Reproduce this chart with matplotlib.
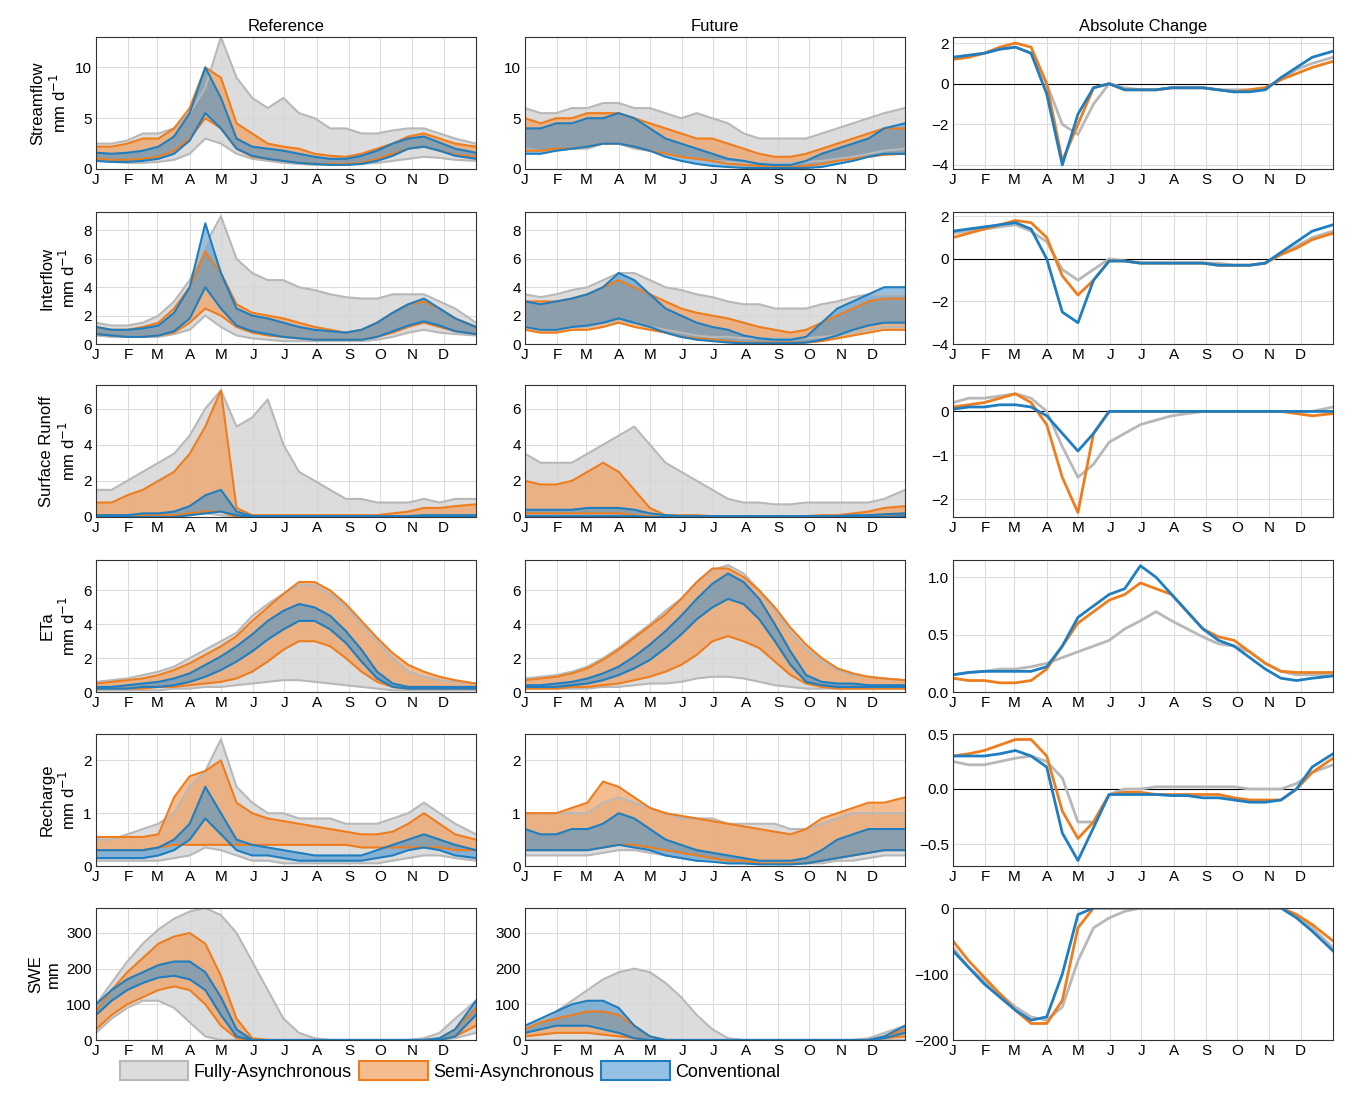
import numpy as np
import matplotlib
matplotlib.use("Agg")
import matplotlib.pyplot as plt
from matplotlib.patches import Patch

plt.rcParams['font.family'] = ['Liberation Sans', 'DejaVu Sans']

# sample days (day of year) for every series below
DAYS = [0, 15, 30, 45, 60, 75, 90, 105, 120, 135, 150, 165, 180, 195, 210,
        225, 240, 255, 270, 285, 300, 315, 330, 345, 365]
MONTH_START = [0, 31, 59, 90, 120, 151, 181, 212, 243, 273, 304, 334]
MONTH_LABELS = ['J', 'F', 'M', 'A', 'M', 'J', 'J', 'A', 'S', 'O', 'N', 'D']
COLUMNS = ['Reference', 'Future', 'Absolute Change']
ROW_LABELS = ['Streamflow\nmm d$^{-1}$', 'Interflow\nmm d$^{-1}$', 'Surface Runoff\nmm d$^{-1}$',
              'ETa\nmm d$^{-1}$', 'Recharge\nmm d$^{-1}$', 'SWE\nmm']
MODELS = ['Fully-Asynchronous', 'Semi-Asynchronous', 'Conventional']

Z = [0] * 25

# ---- Streamflow
sf_ref_grey_hi = [2.5, 2.5, 2.8, 3.5, 3.5, 4, 5.5, 8, 13, 9, 7, 6, 7, 5.5, 5, 4, 4, 3.5, 3.5, 3.8, 4, 4, 3.5, 3, 2.5]
sf_ref_grey_lo = [0.8, 0.7, 0.6, 0.6, 0.7, 0.9, 1.5, 3, 2.5, 1.5, 1, 0.8, 0.6, 0.5, 0.4, 0.4, 0.4, 0.5, 0.6, 0.8, 1, 1.2, 1.1, 0.9, 0.8]
sf_ref_or_hi = [2.2, 2.2, 2.5, 3, 3, 4, 6, 10, 9, 4.5, 3.5, 2.5, 2.2, 2, 1.5, 1.3, 1.2, 1.5, 2, 2.5, 3.2, 3.5, 3, 2.5, 2.2]
sf_ref_or_lo = [1, 0.9, 0.9, 1, 1.2, 1.8, 3, 5, 4, 2, 1.2, 1, 0.8, 0.6, 0.5, 0.5, 0.5, 0.6, 1, 1.5, 2, 2.2, 1.8, 1.4, 1.2]
sf_ref_bl_hi = [1.6, 1.5, 1.6, 1.8, 2.2, 3.2, 5.5, 10, 7, 3, 2.2, 2, 1.8, 1.5, 1.2, 1, 1, 1.3, 1.8, 2.5, 3, 3.2, 2.6, 2, 1.6]
sf_ref_bl_lo = [0.8, 0.7, 0.7, 0.8, 1, 1.5, 2.8, 5.5, 4, 2, 1.3, 1, 0.8, 0.6, 0.5, 0.4, 0.4, 0.5, 0.8, 1.3, 2, 2.2, 1.8, 1.3, 1]
sf_fut_grey_hi = [6, 5.5, 5.5, 6, 6, 6.5, 6.5, 6, 6, 5.5, 5, 5.5, 5, 4.5, 3.5, 3, 3, 3, 3, 3.5, 4, 4.5, 5, 5.5, 6]
sf_fut_grey_lo = [2, 1.8, 1.8, 2, 2, 2.5, 2.5, 2, 1.8, 1.5, 1.2, 1, 0.8, 0.7, 0.6, 0.6, 0.6, 0.6, 0.7, 0.8, 1, 1.2, 1.5, 1.8, 2]
sf_fut_or_hi = [5, 4.5, 5, 5, 5.5, 5.5, 5.5, 5, 4.5, 4, 3.5, 3, 3, 2.5, 2, 1.5, 1.2, 1.2, 1.5, 2, 2.5, 3, 3.5, 4, 4]
sf_fut_or_lo = [1.8, 1.8, 2, 2, 2.2, 2.5, 2.5, 2.2, 1.8, 1.5, 1.2, 1, 0.8, 0.5, 0.4, 0.3, 0.2, 0.2, 0.3, 0.5, 0.8, 1, 1.2, 1.4, 1.5]
sf_fut_bl_hi = [4, 4, 4.5, 4.5, 5, 5, 5.5, 5, 4, 3, 2.5, 2, 1.5, 1, 0.8, 0.5, 0.4, 0.4, 0.8, 1.5, 2, 2.5, 3, 4, 4.5]
sf_fut_bl_lo = [1.5, 1.5, 1.8, 2, 2.2, 2.5, 2.5, 2.2, 1.8, 1.2, 0.8, 0.5, 0.3, 0.2, 0.1, 0.1, 0.1, 0.1, 0.1, 0.2, 0.5, 0.8, 1.2, 1.5, 1.5]
sf_chg_grey = [1.3, 1.4, 1.5, 1.7, 1.8, 1.5, 0, -2, -2.5, -1, 0, -0.2, -0.3, -0.3, -0.2, -0.2, -0.2, -0.3, -0.3, -0.3, -0.2, 0.2, 0.7, 1, 1.3]
sf_chg_or = [1.2, 1.3, 1.5, 1.8, 2, 1.8, 0, -3.8, -2, -0.2, 0, -0.3, -0.3, -0.3, -0.2, -0.2, -0.2, -0.3, -0.4, -0.3, -0.2, 0.2, 0.5, 0.8, 1.1]
sf_chg_bl = [1.3, 1.4, 1.5, 1.7, 1.8, 1.5, -0.5, -4, -1.5, -0.2, 0, -0.3, -0.3, -0.3, -0.2, -0.2, -0.2, -0.3, -0.4, -0.4, -0.3, 0.3, 0.8, 1.3, 1.6]

# ---- Interflow
if_ref_grey_hi = [1.5, 1.3, 1.3, 1.5, 2, 3, 4.5, 7, 9, 6, 5, 4.5, 4.5, 4, 3.8, 3.5, 3.3, 3.2, 3.2, 3.5, 3.5, 3.5, 3, 2.5, 1.5]
if_ref_grey_lo = [0.6, 0.5, 0.5, 0.5, 0.5, 0.7, 1, 2, 1.2, 0.6, 0.4, 0.3, 0.2, 0.2, 0.2, 0.2, 0.2, 0.2, 0.3, 0.5, 0.8, 1, 0.8, 0.7, 0.6]
if_ref_or_hi = [1.2, 1, 1, 1.2, 1.5, 2.5, 4, 6.5, 5, 2.8, 2.2, 2, 1.8, 1.5, 1.2, 1, 0.8, 1, 1.5, 2.2, 2.8, 3, 2.5, 1.8, 1.2]
if_ref_or_lo = [0.7, 0.6, 0.5, 0.5, 0.6, 0.8, 1.5, 2.5, 2, 1.2, 0.8, 0.6, 0.5, 0.4, 0.3, 0.3, 0.3, 0.3, 0.5, 0.8, 1.2, 1.5, 1.2, 0.9, 0.7]
if_ref_bl_hi = [1.2, 1, 1, 1.1, 1.3, 2.2, 4, 8.5, 5, 2.5, 2, 1.8, 1.5, 1.2, 1, 0.9, 0.8, 1, 1.5, 2.2, 2.8, 3.2, 2.5, 1.8, 1.2]
if_ref_bl_lo = [0.7, 0.6, 0.5, 0.5, 0.6, 0.9, 1.8, 4, 2.5, 1.3, 0.9, 0.7, 0.5, 0.4, 0.3, 0.3, 0.3, 0.3, 0.5, 0.9, 1.3, 1.6, 1.3, 0.9, 0.7]
if_fut_grey_hi = [3.5, 3.3, 3.5, 3.8, 4, 4.5, 5, 5, 4.5, 4, 3.8, 3.5, 3.3, 3, 2.8, 2.8, 2.5, 2.5, 2.5, 2.8, 3, 3.3, 3.5, 3.5, 3.5]
if_fut_grey_lo = [1.2, 1, 1, 1.2, 1.2, 1.5, 1.5, 1.5, 1.2, 1, 0.8, 0.6, 0.5, 0.5, 0.4, 0.4, 0.4, 0.4, 0.4, 0.5, 0.6, 0.8, 1, 1.2, 1.2]
if_fut_or_hi = [3, 3, 3, 3.2, 3.5, 4, 4.5, 4, 3.5, 3, 2.5, 2.2, 2, 1.8, 1.5, 1.2, 1, 0.8, 1, 1.5, 2, 2.5, 3, 3.2, 3.2]
if_fut_or_lo = [1, 0.8, 0.8, 1, 1, 1.2, 1.5, 1.2, 1, 0.8, 0.5, 0.4, 0.3, 0.2, 0.1, 0.1, 0.1, 0.1, 0.1, 0.2, 0.4, 0.6, 0.8, 1, 1]
if_fut_bl_hi = [3, 2.8, 3, 3.2, 3.5, 4, 5, 4.5, 3.5, 2.5, 2, 1.5, 1.2, 1, 0.6, 0.4, 0.3, 0.3, 0.5, 1.5, 2.5, 3, 3.5, 4, 4]
if_fut_bl_lo = [1.2, 1, 1, 1.2, 1.3, 1.5, 1.8, 1.5, 1.2, 0.8, 0.5, 0.3, 0.2, 0.1, 0.05, 0.05, 0.05, 0.05, 0.1, 0.3, 0.6, 1, 1.3, 1.5, 1.5]
if_chg_grey = [1.2, 1.3, 1.4, 1.5, 1.6, 1.3, 0.8, -0.5, -1, -0.5, 0, -0.1, -0.2, -0.2, -0.2, -0.2, -0.2, -0.2, -0.3, -0.3, -0.2, 0.2, 0.6, 1, 1.3]
if_chg_or = [1, 1.2, 1.4, 1.6, 1.8, 1.7, 1, -0.8, -1.7, -1, -0.1, -0.1, -0.2, -0.2, -0.2, -0.2, -0.2, -0.3, -0.3, -0.3, -0.2, 0.2, 0.5, 0.9, 1.2]
if_chg_bl = [1.3, 1.4, 1.5, 1.6, 1.7, 1.4, 0, -2.5, -3, -1, -0.1, -0.1, -0.2, -0.2, -0.2, -0.2, -0.2, -0.3, -0.3, -0.3, -0.2, 0.3, 0.8, 1.3, 1.6]

# ---- Surface runoff
sr_ref_grey_hi = [1.5, 1.5, 2, 2.5, 3, 3.5, 4.5, 6, 7, 5, 5.5, 6.5, 4, 2.5, 2, 1.5, 1, 1, 0.8, 0.8, 0.8, 1, 0.8, 1, 1]
sr_ref_grey_lo = [0, 0, 0, 0, 0, 0, 0.1, 0.2, 0.1, 0, 0, 0, 0, 0, 0, 0, 0, 0, 0, 0, 0, 0, 0, 0, 0]
sr_ref_or_hi = [0.8, 0.8, 1.2, 1.5, 2, 2.5, 3.5, 5, 7, 0.5, 0.1, 0.1, 0.1, 0.1, 0.1, 0.1, 0.1, 0.1, 0.1, 0.2, 0.3, 0.5, 0.5, 0.6, 0.7]
sr_ref_or_lo = [0.1, 0.1, 0.1, 0.1, 0.1, 0.1, 0.2, 0.3, 0.3, 0, 0, 0, 0, 0, 0, 0, 0, 0, 0, 0, 0, 0, 0, 0, 0]
sr_ref_bl_hi = [0.1, 0.1, 0.1, 0.2, 0.2, 0.3, 0.6, 1.2, 1.5, 0.3, 0.05, 0.05, 0.05, 0.05, 0.05, 0.05, 0.05, 0.05, 0.05, 0.05, 0.05, 0.1, 0.1, 0.1, 0.1]
sr_ref_bl_lo = [0, 0, 0, 0, 0, 0, 0.1, 0.2, 0.3, 0.1, 0, 0, 0, 0, 0, 0, 0, 0, 0, 0, 0, 0, 0, 0, 0]
sr_fut_grey_hi = [3.5, 3, 3, 3, 3.5, 4, 4.5, 5, 4, 3, 2.5, 2, 1.5, 1, 0.8, 0.8, 0.7, 0.7, 0.8, 0.8, 0.8, 0.8, 0.8, 1, 1.5]
sr_fut_grey_lo = [0.1, 0.1, 0.1, 0.1, 0.1, 0.1, 0.1, 0.1, 0.1, 0, 0, 0, 0, 0, 0, 0, 0, 0, 0, 0, 0, 0, 0, 0, 0.1]
sr_fut_or_hi = [2, 1.8, 1.8, 2, 2.5, 3, 2.5, 1.5, 0.5, 0.1, 0.1, 0.1, 0.05, 0.05, 0.05, 0.05, 0.05, 0.05, 0.05, 0.1, 0.1, 0.2, 0.3, 0.5, 0.6]
sr_fut_or_lo = [0.2, 0.2, 0.2, 0.2, 0.2, 0.2, 0.2, 0.1, 0.05, 0, 0, 0, 0, 0, 0, 0, 0, 0, 0, 0, 0, 0, 0, 0.05, 0.1]
sr_fut_bl_hi = [0.4, 0.4, 0.4, 0.4, 0.5, 0.5, 0.5, 0.4, 0.2, 0.1, 0.05, 0.05, 0.05, 0.05, 0.05, 0.05, 0.05, 0.05, 0.05, 0.05, 0.05, 0.1, 0.1, 0.15, 0.2]
sr_fut_bl_lo = [0.05, 0.05, 0.05, 0.05, 0.05, 0.05, 0.05, 0.05, 0, 0, 0, 0, 0, 0, 0, 0, 0, 0, 0, 0, 0, 0, 0, 0, 0.05]
sr_chg_grey = [0.2, 0.3, 0.3, 0.35, 0.4, 0.3, 0, -0.8, -1.5, -1.2, -0.7, -0.5, -0.3, -0.2, -0.1, -0.05, 0, 0, 0, 0, 0, 0, 0, 0, 0.1]
sr_chg_or = [0.1, 0.15, 0.2, 0.3, 0.4, 0.2, -0.3, -1.5, -2.3, -0.5, 0, 0, 0, 0, 0, 0, 0, 0, 0, 0, 0, 0, -0.05, -0.1, -0.05]
sr_chg_bl = [0.05, 0.1, 0.1, 0.15, 0.15, 0.1, -0.1, -0.5, -0.9, -0.5, 0, 0, 0, 0, 0, 0, 0, 0, 0, 0, 0, 0, 0, 0, 0]

# ---- ETa
et_ref_grey_hi = [0.6, 0.7, 0.8, 1, 1.2, 1.5, 2, 2.5, 3, 3.5, 4.5, 5.2, 5.8, 6.3, 6.3, 5.8, 5, 4, 3, 2, 1.2, 0.9, 0.7, 0.6, 0.5]
et_ref_grey_lo = [0.1, 0.1, 0.1, 0.1, 0.1, 0.2, 0.2, 0.3, 0.3, 0.4, 0.5, 0.6, 0.7, 0.7, 0.6, 0.5, 0.4, 0.3, 0.2, 0.1, 0.1, 0.1, 0.1, 0.1, 0.1]
et_ref_or_hi = [0.5, 0.6, 0.7, 0.8, 1, 1.3, 1.7, 2.2, 2.7, 3.3, 4.2, 5, 5.8, 6.5, 6.5, 6, 5.2, 4.2, 3.2, 2.3, 1.6, 1.2, 0.9, 0.7, 0.5]
et_ref_or_lo = [0.2, 0.2, 0.2, 0.2, 0.3, 0.3, 0.4, 0.5, 0.6, 0.8, 1.2, 1.8, 2.5, 3, 3, 2.7, 2, 1.2, 0.6, 0.3, 0.2, 0.2, 0.2, 0.2, 0.2]
et_ref_bl_hi = [0.3, 0.3, 0.4, 0.5, 0.6, 0.8, 1.1, 1.6, 2.1, 2.7, 3.4, 4.2, 4.8, 5.2, 5, 4.5, 3.6, 2.5, 1.2, 0.5, 0.3, 0.3, 0.3, 0.3, 0.3]
et_ref_bl_lo = [0.2, 0.2, 0.2, 0.3, 0.3, 0.4, 0.6, 0.9, 1.3, 1.8, 2.4, 3.1, 3.7, 4.2, 4.2, 3.7, 2.9, 1.8, 0.8, 0.3, 0.2, 0.2, 0.2, 0.2, 0.2]
et_fut_grey_hi = [0.8, 0.9, 1, 1.2, 1.5, 2, 2.6, 3.3, 4, 4.8, 5.5, 6.5, 7.2, 7.5, 7, 6, 4.8, 3.5, 2.5, 1.8, 1.3, 1, 0.9, 0.8, 0.7]
et_fut_grey_lo = [0.2, 0.2, 0.2, 0.2, 0.2, 0.3, 0.3, 0.4, 0.5, 0.5, 0.6, 0.8, 0.9, 0.9, 0.8, 0.6, 0.4, 0.3, 0.2, 0.2, 0.2, 0.2, 0.2, 0.2, 0.2]
et_fut_or_hi = [0.7, 0.8, 0.9, 1.1, 1.4, 1.9, 2.5, 3.2, 3.9, 4.6, 5.5, 6.5, 7.3, 7.3, 6.8, 6, 5, 3.8, 2.8, 2, 1.4, 1.1, 0.9, 0.8, 0.7]
et_fut_or_lo = [0.2, 0.2, 0.2, 0.3, 0.3, 0.4, 0.5, 0.7, 0.9, 1.2, 1.6, 2.2, 3, 3.3, 3, 2.6, 1.8, 1, 0.5, 0.3, 0.2, 0.2, 0.2, 0.2, 0.2]
et_fut_bl_hi = [0.4, 0.4, 0.5, 0.6, 0.8, 1.1, 1.5, 2.1, 2.8, 3.6, 4.5, 5.5, 6.4, 7, 6.5, 5.5, 4, 2.4, 1, 0.6, 0.5, 0.5, 0.4, 0.4, 0.4]
et_fut_bl_lo = [0.3, 0.3, 0.3, 0.4, 0.5, 0.7, 1, 1.4, 1.9, 2.6, 3.4, 4.3, 5, 5.5, 5.2, 4.3, 3, 1.6, 0.6, 0.4, 0.3, 0.3, 0.3, 0.3, 0.3]
et_chg_grey = [0.15, 0.17, 0.18, 0.2, 0.2, 0.22, 0.25, 0.3, 0.35, 0.4, 0.45, 0.55, 0.62, 0.7, 0.62, 0.55, 0.48, 0.42, 0.4, 0.35, 0.25, 0.18, 0.15, 0.15, 0.15]
et_chg_or = [0.12, 0.1, 0.1, 0.08, 0.08, 0.1, 0.2, 0.4, 0.6, 0.7, 0.8, 0.85, 0.95, 0.9, 0.85, 0.7, 0.55, 0.48, 0.45, 0.35, 0.25, 0.18, 0.17, 0.17, 0.17]
et_chg_bl = [0.15, 0.17, 0.18, 0.18, 0.18, 0.18, 0.22, 0.4, 0.65, 0.75, 0.85, 0.9, 1.1, 1.0, 0.85, 0.7, 0.55, 0.45, 0.4, 0.3, 0.2, 0.12, 0.1, 0.12, 0.14]

# ---- Recharge
rc_ref_grey_hi = [0.5, 0.5, 0.6, 0.7, 0.8, 1, 1.5, 1.8, 2.4, 1.5, 1.2, 1, 1, 0.9, 0.9, 0.9, 0.8, 0.8, 0.8, 0.9, 1, 1.2, 1, 0.8, 0.6]
rc_ref_grey_lo = [0.1, 0.1, 0.1, 0.1, 0.1, 0.15, 0.2, 0.35, 0.3, 0.2, 0.1, 0.1, 0.05, 0.05, 0.05, 0.05, 0.05, 0.05, 0.05, 0.1, 0.15, 0.2, 0.2, 0.15, 0.1]
rc_ref_or_hi = [0.55, 0.55, 0.55, 0.55, 0.6, 1.3, 1.7, 1.8, 2, 1.2, 1.0, 0.9, 0.85, 0.8, 0.75, 0.7, 0.65, 0.6, 0.6, 0.65, 0.8, 1.0, 0.8, 0.6, 0.5]
rc_ref_or_lo = [0.3, 0.3, 0.3, 0.3, 0.35, 0.4, 0.4, 0.4, 0.4, 0.4, 0.4, 0.4, 0.4, 0.4, 0.4, 0.4, 0.4, 0.35, 0.35, 0.35, 0.35, 0.35, 0.35, 0.3, 0.3]
rc_ref_bl_hi = [0.3, 0.3, 0.3, 0.3, 0.35, 0.5, 0.8, 1.5, 1.0, 0.5, 0.4, 0.35, 0.3, 0.25, 0.2, 0.2, 0.2, 0.2, 0.3, 0.4, 0.5, 0.6, 0.5, 0.4, 0.3]
rc_ref_bl_lo = [0.15, 0.15, 0.15, 0.15, 0.2, 0.3, 0.5, 0.9, 0.6, 0.3, 0.2, 0.2, 0.15, 0.1, 0.1, 0.1, 0.1, 0.1, 0.15, 0.2, 0.3, 0.35, 0.3, 0.2, 0.15]
rc_fut_grey_hi = [1, 1, 1, 1, 1, 1.2, 1.3, 1.2, 1.1, 1, 0.9, 0.9, 0.9, 0.8, 0.8, 0.8, 0.8, 0.7, 0.7, 0.8, 0.9, 1, 1, 1, 1]
rc_fut_grey_lo = [0.2, 0.2, 0.2, 0.2, 0.2, 0.25, 0.3, 0.3, 0.25, 0.2, 0.15, 0.1, 0.1, 0.05, 0.05, 0.05, 0.05, 0.05, 0.05, 0.05, 0.1, 0.1, 0.15, 0.2, 0.2]
rc_fut_or_hi = [1, 1, 1, 1.1, 1.2, 1.6, 1.5, 1.3, 1.1, 1, 0.95, 0.9, 0.85, 0.8, 0.75, 0.7, 0.65, 0.6, 0.7, 0.9, 1.0, 1.1, 1.2, 1.2, 1.3]
rc_fut_or_lo = [0.3, 0.3, 0.3, 0.3, 0.3, 0.35, 0.4, 0.4, 0.35, 0.3, 0.25, 0.2, 0.15, 0.1, 0.1, 0.05, 0.05, 0.05, 0.05, 0.1, 0.15, 0.2, 0.25, 0.3, 0.3]
rc_fut_bl_hi = [0.7, 0.6, 0.6, 0.7, 0.7, 0.8, 1.0, 0.9, 0.7, 0.5, 0.4, 0.3, 0.25, 0.2, 0.15, 0.1, 0.1, 0.1, 0.15, 0.3, 0.5, 0.6, 0.7, 0.7, 0.7]
rc_fut_bl_lo = [0.3, 0.3, 0.3, 0.3, 0.3, 0.35, 0.4, 0.35, 0.3, 0.2, 0.15, 0.1, 0.08, 0.05, 0.05, 0.03, 0.03, 0.03, 0.05, 0.1, 0.15, 0.2, 0.25, 0.3, 0.3]
rc_chg_grey = [0.25, 0.22, 0.22, 0.25, 0.28, 0.3, 0.25, 0.1, -0.3, -0.3, -0.05, 0, 0, 0.02, 0.02, 0.02, 0.02, 0.02, 0.02, 0, 0, 0, 0.05, 0.15, 0.22]
rc_chg_or = [0.3, 0.32, 0.35, 0.4, 0.45, 0.45, 0.3, -0.2, -0.45, -0.3, -0.05, -0.03, -0.03, -0.05, -0.05, -0.05, -0.05, -0.05, -0.08, -0.1, -0.1, -0.1, 0, 0.15, 0.28]
rc_chg_bl = [0.3, 0.3, 0.3, 0.32, 0.35, 0.3, 0.2, -0.4, -0.65, -0.35, -0.05, -0.05, -0.05, -0.05, -0.06, -0.06, -0.08, -0.08, -0.1, -0.12, -0.12, -0.1, 0, 0.2, 0.32]

# ---- SWE
sw_ref_grey_hi = [100, 160, 220, 270, 310, 340, 360, 370, 350, 300, 220, 140, 60, 20, 5, 0, 0, 0, 0, 0, 0, 5, 20, 60, 110]
sw_ref_grey_lo = [20, 60, 90, 110, 110, 90, 50, 10, 0, 0, 0, 0, 0, 0, 0, 0, 0, 0, 0, 0, 0, 0, 0, 5, 20]
sw_ref_or_hi = [80, 140, 190, 230, 270, 290, 300, 270, 180, 60, 5, 0, 0, 0, 0, 0, 0, 0, 0, 0, 0, 0, 5, 30, 90]
sw_ref_or_lo = [30, 70, 100, 120, 140, 150, 140, 100, 40, 5, 0, 0, 0, 0, 0, 0, 0, 0, 0, 0, 0, 0, 0, 10, 40]
sw_ref_bl_hi = [100, 140, 170, 190, 210, 220, 220, 190, 120, 30, 0, 0, 0, 0, 0, 0, 0, 0, 0, 0, 0, 0, 5, 30, 110]
sw_ref_bl_lo = [70, 110, 140, 160, 175, 180, 170, 140, 70, 10, 0, 0, 0, 0, 0, 0, 0, 0, 0, 0, 0, 0, 0, 10, 70]
sw_fut_grey_hi = [30, 50, 80, 110, 140, 170, 190, 200, 190, 160, 120, 70, 30, 5, 0, 0, 0, 0, 0, 0, 0, 0, 5, 20, 40]
sw_fut_grey_lo = Z
sw_fut_or_hi = [30, 50, 60, 70, 80, 80, 70, 40, 10, 0, 0, 0, 0, 0, 0, 0, 0, 0, 0, 0, 0, 0, 0, 10, 30]
sw_fut_or_lo = [10, 15, 20, 20, 20, 15, 10, 5, 0, 0, 0, 0, 0, 0, 0, 0, 0, 0, 0, 0, 0, 0, 0, 5, 10]
sw_fut_bl_hi = [40, 60, 80, 100, 110, 110, 90, 40, 10, 0, 0, 0, 0, 0, 0, 0, 0, 0, 0, 0, 0, 0, 0, 10, 40]
sw_fut_bl_lo = [20, 30, 40, 40, 40, 30, 20, 5, 0, 0, 0, 0, 0, 0, 0, 0, 0, 0, 0, 0, 0, 0, 0, 5, 20]
sw_chg_grey = [-60, -90, -110, -130, -150, -165, -170, -150, -80, -30, -15, -5, 0, 0, 0, 0, 0, 0, 0, 0, 0, 0, -10, -30, -60]
sw_chg_or = [-50, -80, -105, -130, -155, -175, -175, -140, -30, 0, 0, 0, 0, 0, 0, 0, 0, 0, 0, 0, 0, 0, -10, -25, -50]
sw_chg_bl = [-65, -90, -115, -135, -155, -170, -165, -100, -10, 0, 0, 0, 0, 0, 0, 0, 0, 0, 0, 0, 0, 0, -15, -35, -65]

ROWS = [
    ((sf_ref_grey_lo, sf_ref_grey_hi, sf_ref_or_lo, sf_ref_or_hi, sf_ref_bl_lo, sf_ref_bl_hi),
     (sf_fut_grey_lo, sf_fut_grey_hi, sf_fut_or_lo, sf_fut_or_hi, sf_fut_bl_lo, sf_fut_bl_hi),
     (sf_chg_grey, sf_chg_or, sf_chg_bl)),
    ((if_ref_grey_lo, if_ref_grey_hi, if_ref_or_lo, if_ref_or_hi, if_ref_bl_lo, if_ref_bl_hi),
     (if_fut_grey_lo, if_fut_grey_hi, if_fut_or_lo, if_fut_or_hi, if_fut_bl_lo, if_fut_bl_hi),
     (if_chg_grey, if_chg_or, if_chg_bl)),
    ((sr_ref_grey_lo, sr_ref_grey_hi, sr_ref_or_lo, sr_ref_or_hi, sr_ref_bl_lo, sr_ref_bl_hi),
     (sr_fut_grey_lo, sr_fut_grey_hi, sr_fut_or_lo, sr_fut_or_hi, sr_fut_bl_lo, sr_fut_bl_hi),
     (sr_chg_grey, sr_chg_or, sr_chg_bl)),
    ((et_ref_grey_lo, et_ref_grey_hi, et_ref_or_lo, et_ref_or_hi, et_ref_bl_lo, et_ref_bl_hi),
     (et_fut_grey_lo, et_fut_grey_hi, et_fut_or_lo, et_fut_or_hi, et_fut_bl_lo, et_fut_bl_hi),
     (et_chg_grey, et_chg_or, et_chg_bl)),
    ((rc_ref_grey_lo, rc_ref_grey_hi, rc_ref_or_lo, rc_ref_or_hi, rc_ref_bl_lo, rc_ref_bl_hi),
     (rc_fut_grey_lo, rc_fut_grey_hi, rc_fut_or_lo, rc_fut_or_hi, rc_fut_bl_lo, rc_fut_bl_hi),
     (rc_chg_grey, rc_chg_or, rc_chg_bl)),
    ((sw_ref_grey_lo, sw_ref_grey_hi, sw_ref_or_lo, sw_ref_or_hi, sw_ref_bl_lo, sw_ref_bl_hi),
     (sw_fut_grey_lo, sw_fut_grey_hi, sw_fut_or_lo, sw_fut_or_hi, sw_fut_bl_lo, sw_fut_bl_hi),
     (sw_chg_grey, sw_chg_or, sw_chg_bl)),
]

# axis settings per row: (ylim, yticks) for value panels and change panels
VAL_LIM = [((0, 13), [0, 5, 10]), ((0, 9.3), [0, 2, 4, 6, 8]), ((0, 7.3), [0, 2, 4, 6]),
           ((0, 7.8), [0, 2, 4, 6]), ((0, 2.5), [0, 1, 2]), ((0, 370), [0, 100, 200, 300])]
CHG_LIM = [((-4.2, 2.3), [-4, -2, 0, 2]), ((-4, 2.2), [-4, -2, 0, 2]), ((-2.4, 0.6), [-2, -1, 0]),
           ((0, 1.15), [0, 0.5, 1]), ((-0.7, 0.5), [-0.5, 0, 0.5]), ((-200, 0), [-200, -100, 0])]
ZERO_LINE = [True, True, True, False, True, False]

FILL = ['#d6d6d6', '#f0a060', '#3d8fce']
FILL_ALPHA = [0.85, 0.7, 0.55]
EDGE = ['#b8b8b8', '#ee7d1e', '#1f7ec0']

W, H = 1362, 1098
fig = plt.figure(figsize=(W / 100, H / 100), dpi=100)
col_x = [96, 525, 953]
ax_w = 380
row_y = [37, 212, 385, 560, 734, 908]
ax_h = 132


def style(ax):
    ax.set_xlim(0, 365)
    ax.set_xticks(MONTH_START)
    ax.set_xticklabels(MONTH_LABELS)
    ax.grid(True, color='#dcdcdc', linewidth=0.8)
    ax.set_axisbelow(True)
    ax.tick_params(labelsize=11, length=0, pad=3)
    for s in ax.spines.values():
        s.set_color('#333333')
        s.set_linewidth(0.8)


for r in range(6):
    for c in range(3):
        ax = fig.add_axes([col_x[c] / W, 1 - (row_y[r] + ax_h) / H, ax_w / W, ax_h / H])
        style(ax)
        if c < 2:
            d = ROWS[r][c]
            for k in range(3):
                lo, hi = d[2 * k], d[2 * k + 1]
                ax.fill_between(DAYS, lo, hi, color=FILL[k], alpha=FILL_ALPHA[k], linewidth=0)
                ax.plot(DAYS, lo, color=EDGE[k], lw=1.5)
                ax.plot(DAYS, hi, color=EDGE[k], lw=1.5)
            ax.set_ylim(*VAL_LIM[r][0])
            ax.set_yticks(VAL_LIM[r][1])
        else:
            if ZERO_LINE[r]:
                ax.axhline(0, color='black', lw=0.8)
            for k in range(3):
                ax.plot(DAYS, ROWS[r][2][k], color=EDGE[k], lw=2)
            ax.set_ylim(*CHG_LIM[r][0])
            ax.set_yticks(CHG_LIM[r][1])
        if r == 0:
            ax.set_title(COLUMNS[c], fontsize=12, pad=4)
        if c == 0:
            ax.set_ylabel(ROW_LABELS[r], fontsize=12, labelpad=4)

handles = [Patch(facecolor=FILL[k], alpha=FILL_ALPHA[k], edgecolor=EDGE[k], linewidth=1.5) for k in range(3)]
handles = [Patch(facecolor=matplotlib.colors.to_rgba(FILL[k], FILL_ALPHA[k]), edgecolor=EDGE[k], linewidth=1.5)
           for k in range(3)]
fig.legend(handles, MODELS, loc='center', bbox_to_anchor=(450 / W, 1 - 1071 / H), ncol=3,
           frameon=False, fontsize=13, handlelength=3.8, handleheight=1.2,
           columnspacing=0.4, handletextpad=0.3, borderaxespad=0)

fig.savefig('out.png', dpi=100)
